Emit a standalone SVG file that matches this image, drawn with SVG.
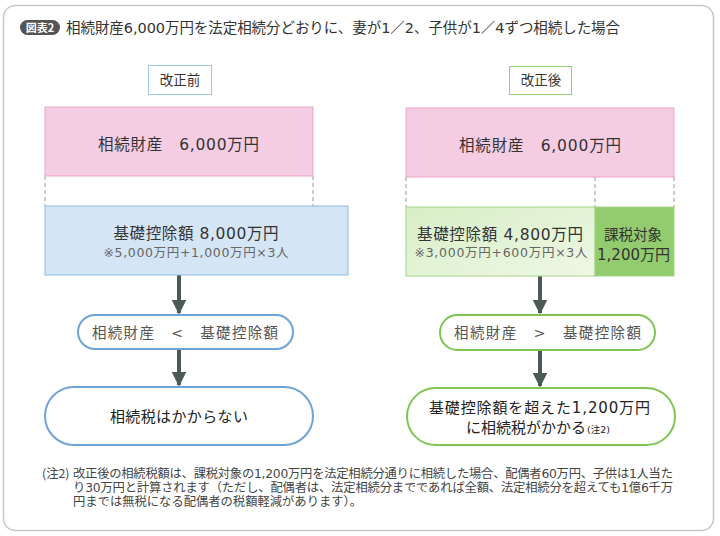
<svg xmlns="http://www.w3.org/2000/svg" width="720" height="536" viewBox="0 0 720 536">
<defs>
<style>
text{font-family:"DejaVu Sans","Noto Sans CJK JP",sans-serif;fill:#333;}
.c{text-anchor:middle;}
.lbl{font-size:13.5px;}
.big{font-size:15.5px;}
.sub{font-size:12.5px;fill:#666;}
.note{font-size:12.3px;fill:#444;}
.cmp{font-size:14.5px;fill:#555;}
.res{font-size:15px;fill:#222;}
.pink{fill:#f5cde3;stroke:#eaa3c8;stroke-width:1;}
.blue{fill:#d4e5f5;stroke:#8db9df;stroke-width:1;}
.lgreen{fill:url(#lg);stroke:#a6d58a;stroke-width:1;}
.dgreen{fill:#93cb6f;stroke:#a6d58a;stroke-width:1;}
.dash{stroke:#999;stroke-width:1;stroke-dasharray:4,3;fill:none;}
.pillb{fill:#fff;stroke:#6ea3d8;stroke-width:2;}
.pillg{fill:#fff;stroke:#7fc552;stroke-width:2;}
.arr{stroke:#4b5a55;stroke-width:4;fill:none;}
</style>
<linearGradient id="lg" x1="0" y1="0" x2="1" y2="1">
<stop offset="0" stop-color="#d8eec6"/><stop offset="1" stop-color="#eef8e6"/>
</linearGradient>
<marker id="ah" viewBox="0 0 10 10" refX="9" refY="5" markerWidth="3.6" markerHeight="3.6" orient="auto" markerUnits="strokeWidth">
<path d="M0,0 L10,5 L0,10 z" fill="#4b5a55"/>
</marker>
</defs>
<rect x="0" y="0" width="720" height="536" fill="#fff"/>
<rect id="frame" x="3.5" y="5.5" width="710" height="525" rx="12" fill="#fff" stroke="#c8c8c8" stroke-width="1.5"/>
<g id="title">
<rect x="20" y="20" width="40" height="15" rx="7.5" fill="#555"/>
<text x="40" y="31.5" class="c" style="font-family:'Noto Sans CJK JP',sans-serif;font-size:11px;fill:#fff;font-weight:bold">図表2</text>
<text x="66" y="33" style="font-size:14.5px" textLength="554" lengthAdjust="spacing">相続財産6,000万円を法定相続分どおりに、妻が1／2、子供が1／4ずつ相続した場合</text>
</g>
<g id="connectors">
<line class="dash" x1="45" y1="176" x2="45" y2="206"/>
<line class="dash" x1="313" y1="176" x2="313" y2="206"/>
<line class="dash" x1="406" y1="177" x2="406" y2="207"/>
<line class="dash" x1="595" y1="177" x2="595" y2="207"/>
<line class="dash" x1="674" y1="177" x2="674" y2="207"/>
<line class="arr" x1="179" y1="275" x2="179" y2="313" marker-end="url(#ah)"/>
<line class="arr" x1="179" y1="349" x2="179" y2="385" marker-end="url(#ah)"/>
<line class="arr" x1="540" y1="276" x2="540" y2="313" marker-end="url(#ah)"/>
<line class="arr" x1="540" y1="350" x2="540" y2="386" marker-end="url(#ah)"/>
</g>
<g id="before-label">
<rect x="148.5" y="65.5" width="63" height="29" fill="#fff" stroke="#9ec4e4" stroke-width="1"/>
<text x="180" y="85" class="c lbl">改正前</text>
</g>
<g id="before-estate">
<rect class="pink" x="45" y="107" width="268" height="69"/>
<text x="178.5" y="150" class="c big" textLength="161" lengthAdjust="spacing">相続財産　6,000万円</text>
</g>
<g id="before-deduction">
<rect class="blue" x="45" y="206" width="303" height="69"/>
<text x="196" y="239" class="c big" textLength="165" lengthAdjust="spacing">基礎控除額 8,000万円</text>
<text x="196" y="257" class="c sub" textLength="185" lengthAdjust="spacing">※5,000万円+1,000万円×3人</text>
</g>
<g id="before-compare">
<rect class="pillb" x="78" y="315" width="215" height="34" rx="17"/>
<text x="185" y="338" class="c cmp" textLength="186" lengthAdjust="spacing">相続財産　&lt;　基礎控除額</text>
</g>
<g id="before-result">
<rect class="pillb" x="45" y="387" width="268" height="58" rx="29"/>
<text x="179" y="421.5" class="c res" textLength="138" lengthAdjust="spacing">相続税はかからない</text>
</g>
<g id="after-label">
<rect x="509.5" y="66.5" width="62" height="28" fill="#fff" stroke="#94d070" stroke-width="1"/>
<text x="541" y="85" class="c lbl">改正後</text>
</g>
<g id="after-estate">
<rect class="pink" x="406" y="108" width="268" height="69"/>
<text x="540" y="151" class="c big" textLength="162" lengthAdjust="spacing">相続財産　6,000万円</text>
</g>
<g id="after-deduction">
<rect class="lgreen" x="406" y="207" width="189" height="69"/>
<text x="500" y="240" class="c big" textLength="166" lengthAdjust="spacing">基礎控除額 4,800万円</text>
<text x="501" y="257" class="c sub" textLength="173" lengthAdjust="spacing">※3,000万円+600万円×3人</text>
</g>
<g id="after-taxable">
<rect class="dgreen" x="595" y="207" width="79" height="69"/>
<text x="633" y="240" class="c" style="font-size:14.5px">課税対象</text>
<text x="633.5" y="260" class="c" style="font-size:15px" textLength="73" lengthAdjust="spacing">1,200万円</text>
</g>
<g id="after-compare">
<rect class="pillg" x="440" y="315" width="215" height="35" rx="17.5"/>
<text x="547.5" y="338" class="c cmp" textLength="187" lengthAdjust="spacing">相続財産　&gt;　基礎控除額</text>
</g>
<g id="after-result">
<rect class="pillg" x="407" y="388" width="268" height="57" rx="28.5"/>
<text x="539.5" y="413" class="c res" textLength="221" lengthAdjust="spacing">基礎控除額を超えた1,200万円</text>
<text x="466" y="433" class="res">に相続税がかかる<tspan style="font-size:9.5px" dx="1">(注2)</tspan></text>
</g>
<g id="footnote">
<text x="42" y="478" class="note" style="font-family:'Noto Sans CJK JP',sans-serif">(注2)</text>
<text x="73" y="478" class="note" textLength="600" lengthAdjust="spacing">改正後の相続税額は、課税対象の1,200万円を法定相続分通りに相続した場合、配偶者60万円、子供は1人当た</text>
<text x="73" y="492" class="note" textLength="600" lengthAdjust="spacing">り30万円と計算されます（ただし、配偶者は、法定相続分までであれば全額、法定相続分を超えても1億6千万</text>
<text x="73" y="505.5" class="note">円までは無税になる配偶者の税額軽減があります）。</text>
</g>
</svg>
